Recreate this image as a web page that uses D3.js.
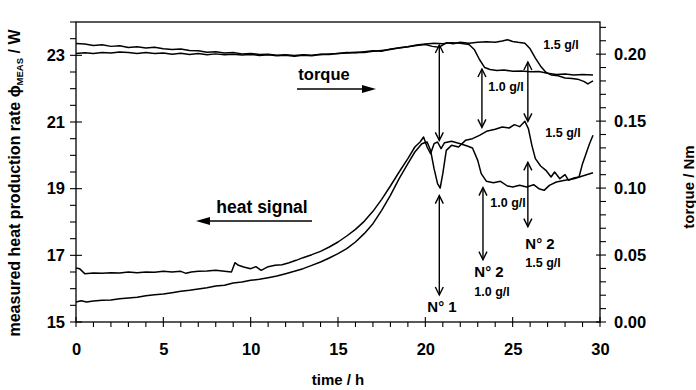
<!DOCTYPE html>
<html lang="en">
<head>
<meta charset="UTF-8">
<title>Heat signal and torque</title>
<script src="https://cdn.jsdelivr.net/npm/d3@7/dist/d3.min.js"></script>
<style>
    body { margin: 0; background: #fff; }
    svg { display: block; }
    text { font-family: "Liberation Sans", Arial, sans-serif; font-weight: bold; fill: #000; }
</style>
</head>
<body>
<div id="container"></div>
<script>
// heat signals (W, left axis), [time h, value]
const heat10 = [[0,16.62],[0.2,16.6],[0.5,16.45],[1,16.47],[1.5,16.46],[2,16.48],[2.5,16.47],[3,16.5],[3.5,16.48],[4,16.5],[4.5,16.49],[5,16.52],[5.5,16.5],[6,16.52],[6.3,16.46],[6.6,16.5],[7,16.52],[7.5,16.53],[8,16.55],[8.5,16.52],[8.9,16.5],[9.1,16.78],[9.3,16.7],[9.6,16.65],[10,16.6],[10.3,16.66],[10.6,16.55],[11,16.66],[11.4,16.7],[11.8,16.72],[12.2,16.78],[12.6,16.85],[13,16.93],[13.5,17.02],[14,17.12],[14.5,17.25],[15,17.4],[15.5,17.58],[16,17.78],[16.5,18.02],[17,18.32],[17.5,18.68],[18,19.08],[18.5,19.5],[19,19.9],[19.4,20.25],[19.7,20.4],[19.9,20.55],[20.1,20.25],[20.3,20.05],[20.5,20.35],[20.7,20.4],[20.9,20.2],[21.1,20.38],[21.5,20.42],[22,20.35],[22.4,20.28],[22.7,20.22],[23,19.85],[23.2,19.45],[23.5,19.22],[23.9,19.18],[24.3,19.22],[24.7,19.08],[25,19.05],[25.4,19.1],[25.8,19.05],[26.2,19.12],[26.5,19.0],[26.8,18.95],[27.1,19.1],[27.5,19.2],[28,19.25],[28.5,19.3],[29,19.38],[29.6,19.48]];
const heat15 = [[0,15.6],[0.3,15.64],[0.6,15.6],[1,15.63],[1.5,15.65],[2,15.66],[2.5,15.7],[3,15.72],[3.5,15.74],[4,15.79],[4.5,15.82],[5,15.84],[5.5,15.88],[6,15.92],[6.5,15.95],[7,15.99],[7.5,16.03],[8,16.08],[8.5,16.1],[9,16.17],[9.5,16.2],[10,16.25],[10.5,16.28],[11,16.33],[11.5,16.38],[12,16.45],[12.5,16.52],[13,16.6],[13.5,16.7],[14,16.8],[14.5,16.92],[15,17.05],[15.5,17.2],[16,17.4],[16.5,17.65],[17,17.95],[17.5,18.35],[18,18.8],[18.5,19.3],[19,19.75],[19.4,20.1],[19.8,20.35],[20.1,20.4],[20.3,20.15],[20.5,19.6],[20.7,19.15],[20.85,19.02],[21,19.45],[21.2,20.15],[21.5,20.3],[21.9,20.25],[22.3,20.45],[22.7,20.5],[23.1,20.6],[23.5,20.72],[24,20.78],[24.4,20.85],[24.8,20.82],[25.1,20.92],[25.4,20.86],[25.7,21.02],[25.9,20.8],[26.1,20.3],[26.3,19.9],[26.6,19.68],[26.9,19.55],[27.2,19.35],[27.4,19.5],[27.7,19.3],[28,19.42],[28.2,19.25],[28.5,19.32],[28.8,19.35],[29.0,19.75],[29.2,20.05],[29.4,20.35],[29.6,20.6]];

// torque (Nm, right axis)
const torque10 = [[0,0.208],[0.5,0.2075],[1,0.2065],[1.5,0.207],[2,0.2058],[2.5,0.2063],[3,0.205],[3.5,0.2055],[4,0.2045],[4.5,0.2052],[5,0.204],[5.5,0.2035],[6,0.2038],[6.5,0.2028],[7,0.2025],[7.5,0.2015],[8,0.2018],[8.5,0.2008],[9,0.2012],[9.5,0.2002],[10,0.2005],[10.5,0.1998],[11,0.2],[11.5,0.1992],[12,0.1996],[12.5,0.199],[13,0.1995],[13.5,0.1992],[14,0.2],[14.5,0.1998],[15,0.2005],[15.5,0.2012],[16,0.201],[16.5,0.2018],[17,0.2025],[17.5,0.2022],[18,0.2038],[18.5,0.2045],[19,0.2055],[19.5,0.2068],[20,0.2075],[20.5,0.2082],[21,0.2078],[21.5,0.2086],[22,0.2082],[22.5,0.2072],[22.8,0.2035],[23.1,0.196],[23.4,0.19],[23.7,0.1885],[24.1,0.1878],[24.5,0.1882],[25,0.1872],[25.5,0.1875],[26,0.1868],[26.5,0.187],[27,0.1858],[27.5,0.1848],[28,0.1852],[28.5,0.1845],[29,0.1848],[29.6,0.1845]];
const torque15 = [[0,0.2005],[0.5,0.201],[1,0.2005],[1.5,0.2012],[2,0.2008],[2.5,0.2016],[3,0.2012],[3.5,0.2005],[4,0.2012],[4.5,0.2004],[5,0.2008],[5.5,0.2],[6,0.2006],[6.5,0.1998],[7,0.2004],[7.5,0.1996],[8,0.2002],[8.5,0.1995],[9,0.2],[9.5,0.1994],[10,0.1998],[10.5,0.199],[11,0.1996],[11.5,0.1988],[12,0.1992],[12.5,0.1985],[13,0.1992],[13.5,0.1988],[14,0.1998],[14.5,0.2002],[15,0.2005],[15.5,0.2008],[16,0.2015],[16.5,0.2012],[17,0.2022],[17.5,0.2028],[18,0.2035],[18.5,0.2048],[19,0.2055],[19.5,0.2065],[20,0.2072],[20.4,0.2058],[20.8,0.2052],[21.2,0.2085],[21.6,0.2078],[22,0.2088],[22.5,0.2082],[23,0.2088],[23.5,0.2092],[24,0.2088],[24.4,0.2098],[24.7,0.2108],[25,0.2095],[25.3,0.2088],[25.7,0.2082],[26,0.204],[26.3,0.197],[26.6,0.191],[26.9,0.1865],[27.2,0.1845],[27.6,0.1838],[28,0.1822],[28.4,0.1818],[28.8,0.181],[29.1,0.1795],[29.3,0.1778],[29.6,0.18]];

// double arrows: time, top and bottom end (in W on left axis)
const arrows = [[20.8,23.31,20.45],[20.8,18.79,15.81],[23.24,22.59,20.84],[23.3,19.03,16.87],[25.87,22.8,21.02],[25.87,19.79,17.86]];

const xTicks = [0, 5, 10, 15, 20, 25, 30];
const heatTicks = [15, 17, 19, 21, 23];
const torqueTicks = [0, 0.05, 0.10, 0.15, 0.20];

const width = 696, height = 390;
const mLeft = 76, mRight = 600, mTop = 22, mBottom = 322;

const svg = d3.select("#container").append("svg")
    .attr("width", width)
    .attr("height", height);

const x = d3.scaleLinear().domain([0, 30]).range([mLeft, mRight]);
const yHeat = d3.scaleLinear().domain([15, 24]).range([mBottom, mTop]);
const yTorque = d3.scaleLinear().domain([0, 0.224]).range([mBottom, mTop]);

// frame
svg.append("rect")
    .attr("x", mLeft).attr("y", mTop)
    .attr("width", mRight - mLeft).attr("height", mBottom - mTop)
    .attr("fill", "none").attr("stroke", "#000").attr("stroke-width", 1.3);

// ticks: majors cross the axis, minors point outward
const tickG = svg.append("g").attr("stroke", "#000").attr("stroke-width", 1.1);
d3.range(0, 30.01, 1).forEach(function(t) {
    let major = t % 5 === 0;
    tickG.append("line")
        .attr("x1", x(t)).attr("x2", x(t))
        .attr("y1", major ? mBottom - 5 : mBottom).attr("y2", mBottom + 5);
});
d3.range(15, 24.01, 0.5).forEach(function(v) {
    let major = heatTicks.indexOf(v) >= 0;
    tickG.append("line")
        .attr("x1", mLeft - 6).attr("x2", major ? mLeft + 6 : mLeft)
        .attr("y1", yHeat(v)).attr("y2", yHeat(v));
});
d3.range(0, 22.5, 1).forEach(function(k) {
    let v = k / 100;
    let major = k % 5 === 0;
    tickG.append("line")
        .attr("x1", major ? mRight - 4 : mRight).attr("x2", mRight + 6)
        .attr("y1", yTorque(v)).attr("y2", yTorque(v));
});

// tick labels through axes
const xAxis = svg.append("g")
    .attr("transform", "translate(0," + mBottom + ")")
    .call(d3.axisBottom(x).tickValues(xTicks).tickSize(0).tickPadding(21).tickFormat(d3.format("d")));
const lAxis = svg.append("g")
    .attr("transform", "translate(" + mLeft + ",0)")
    .call(d3.axisLeft(yHeat).tickValues(heatTicks).tickSize(0).tickPadding(11).tickFormat(d3.format("d")));
const rAxis = svg.append("g")
    .attr("transform", "translate(" + mRight + ",0)")
    .call(d3.axisRight(yTorque).tickValues(torqueTicks).tickSize(0).tickPadding(14).tickFormat(d3.format(".2f")));
[xAxis, lAxis, rAxis].forEach(function(a) {
    a.select(".domain").remove();
    a.selectAll("text").attr("font-size", 16.5).attr("font-family", "Liberation Sans, Arial, sans-serif").attr("font-weight", "bold");
});

// curves
const heatLine = d3.line().x(d => x(d[0])).y(d => yHeat(d[1]));
const torqueLine = d3.line().x(d => x(d[0])).y(d => yTorque(d[1]));
[heat10, heat15].forEach(function(s) {
    svg.append("path").datum(s).attr("d", heatLine)
        .attr("fill", "none").attr("stroke", "#000").attr("stroke-width", 1.5).attr("stroke-linejoin", "round");
});
[torque10, torque15].forEach(function(s) {
    svg.append("path").datum(s).attr("d", torqueLine)
        .attr("fill", "none").attr("stroke", "#000").attr("stroke-width", 1.5).attr("stroke-linejoin", "round");
});

// double-headed arrows
arrows.forEach(function(a) {
    let ax = x(a[0]), y1 = yHeat(a[1]), y2 = yHeat(a[2]);
    let g = svg.append("g").attr("stroke", "#000").attr("stroke-width", 1.4).attr("fill", "none");
    g.append("line").attr("x1", ax).attr("x2", ax).attr("y1", y1).attr("y2", y2);
    g.append("path").attr("d", "M" + (ax - 4) + "," + (y1 + 8) + "L" + ax + "," + y1 + "L" + (ax + 4) + "," + (y1 + 8));
    g.append("path").attr("d", "M" + (ax - 4) + "," + (y2 - 8) + "L" + ax + "," + y2 + "L" + (ax + 4) + "," + (y2 - 8));
});

// direction arrows
svg.append("line").attr("x1", 297).attr("x2", 364).attr("y1", 89).attr("y2", 89).attr("stroke", "#000").attr("stroke-width", 1.3);
svg.append("path").attr("d", "M362,85L376,89L362,93Z").attr("fill", "#000");
svg.append("line").attr("x1", 208).attr("x2", 312).attr("y1", 221).attr("y2", 221).attr("stroke", "#000").attr("stroke-width", 1.3);
svg.append("path").attr("d", "M210,217L196,221L210,225Z").attr("fill", "#000");

// annotations: text, x centre, baseline, size
const notes = [
    ["torque", 324, 80, 16.5],
    ["heat signal", 262, 213, 17.5],
    ["1.5 g/l", 561, 49, 12.5],
    ["1.0 g/l", 506, 91, 12.5],
    ["1.5 g/l", 563, 137, 12.5],
    ["1.0 g/l", 508, 207, 12.5],
    ["N° 1", 442, 312, 15],
    ["N° 2", 489, 277, 15],
    ["1.0 g/l", 492, 296, 12.5],
    ["N° 2", 540, 249, 15],
    ["1.5 g/l", 543, 267, 12.5]
];
notes.forEach(function(n) {
    svg.append("text").attr("x", n[1]).attr("y", n[2])
        .attr("text-anchor", "middle").attr("font-size", n[3]).text(n[0]);
});

// axis titles
svg.append("text").attr("x", 338).attr("y", 385).attr("text-anchor", "middle").attr("font-size", 15).text("time / h");
const lt = svg.append("text")
    .attr("transform", "translate(20,183) rotate(-90)")
    .attr("text-anchor", "middle").attr("font-size", 16);
lt.append("tspan").text("measured heat production rate \u03d5");
lt.append("tspan").attr("font-size", 9.5).attr("dy", 3).text("MEAS");
lt.append("tspan").attr("dy", -3).text(" / W");
svg.append("text")
    .attr("transform", "translate(694,187) rotate(-90)")
    .attr("text-anchor", "middle").attr("font-size", 15).text("torque / Nm");
</script>
</body>
</html>
